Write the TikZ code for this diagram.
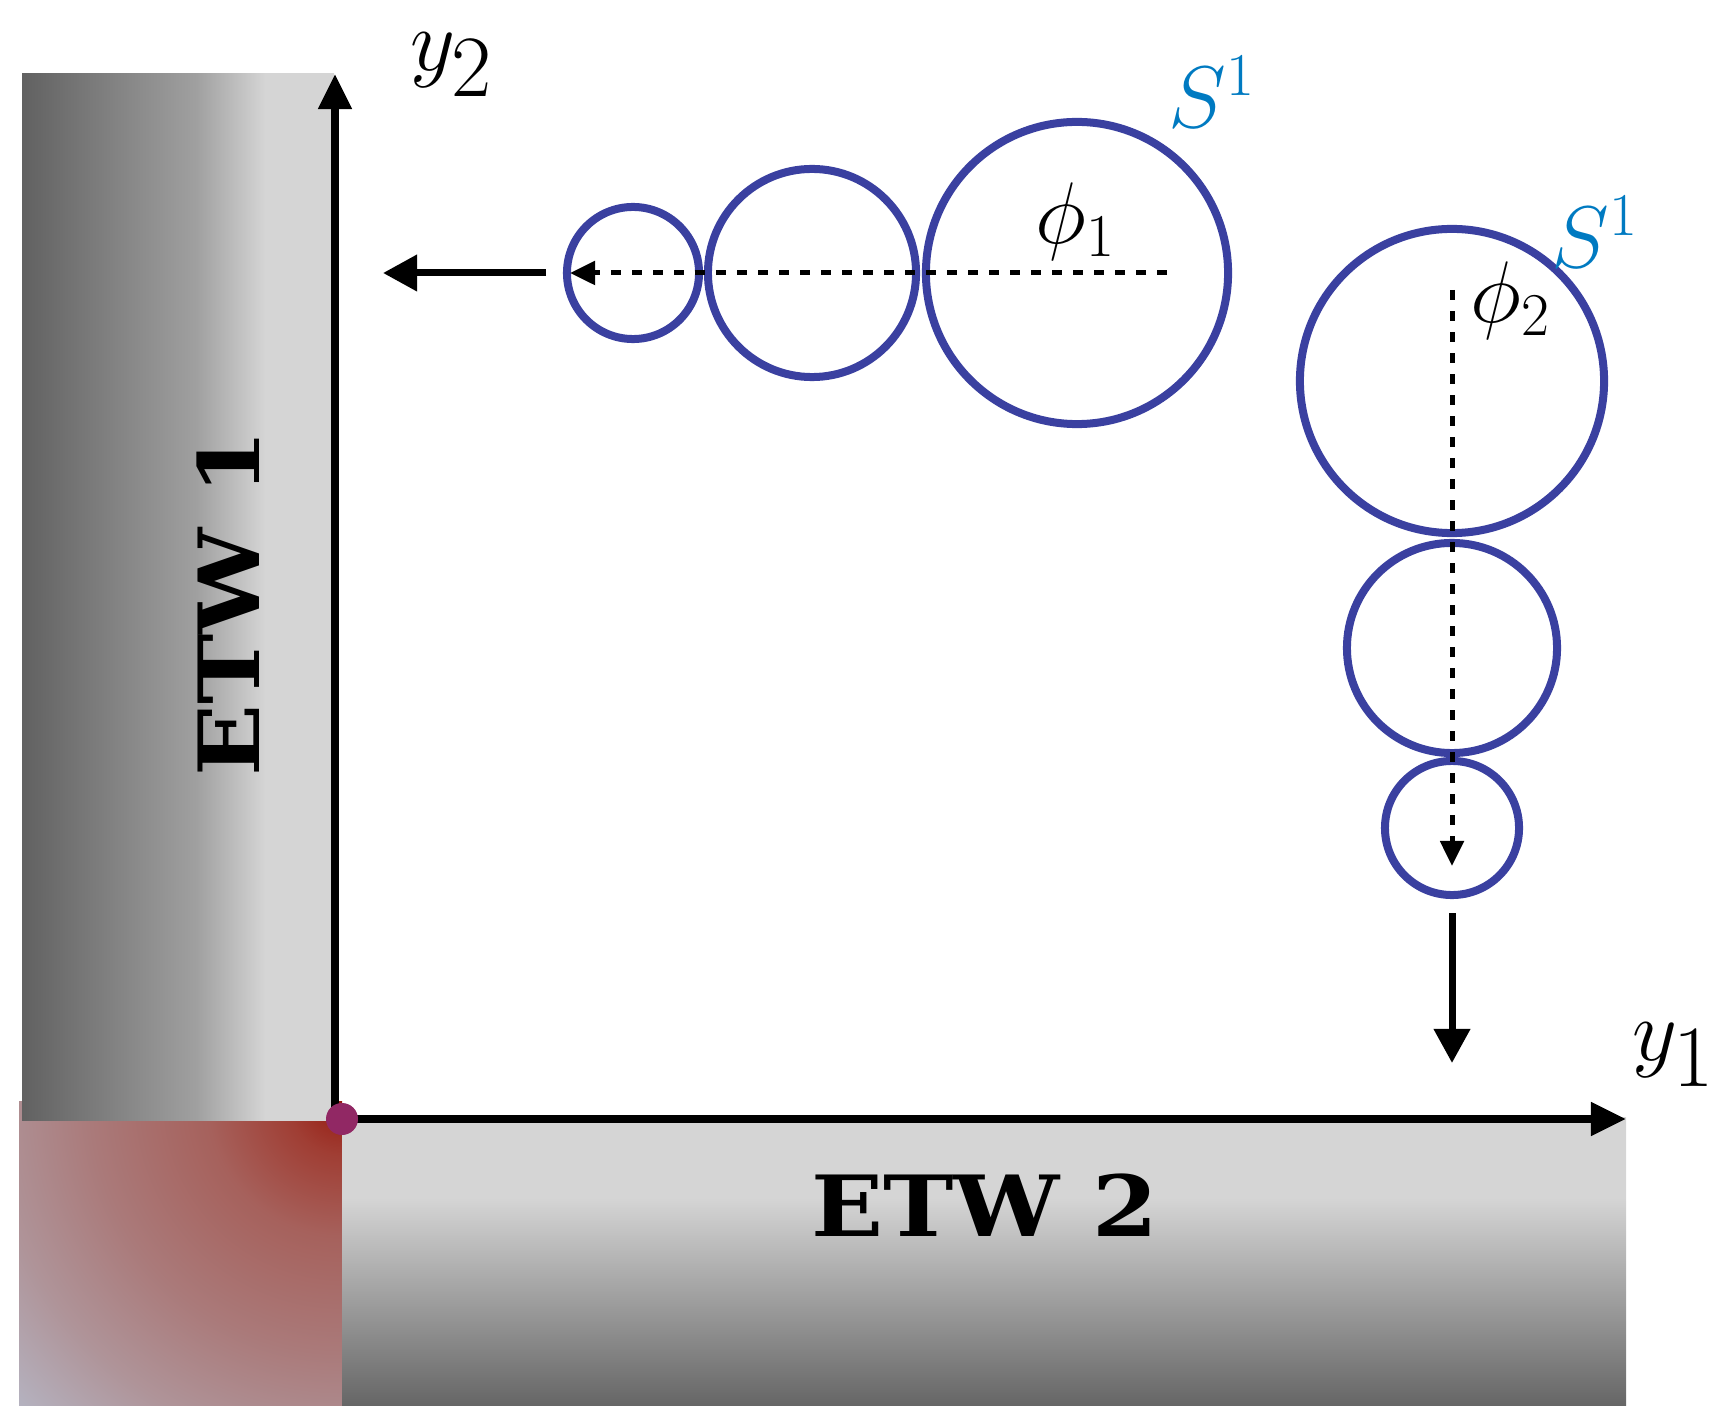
\documentclass[tikz,border=0pt]{standalone}
\usepackage{fontspec}
\newfontfamily\etwfont{DejaVu Serif}
\usepackage{tikz}
\usetikzlibrary{arrows.meta, positioning}
\definecolor{ringblue}{RGB}{58,64,160}
\definecolor{spherecol}{RGB}{0,122,193}
\definecolor{cornerdot}{RGB}{145,40,100}
\definecolor{walldark}{RGB}{97,97,97}
\definecolor{wallmid}{RGB}{160,160,160}
\definecolor{walllight}{RGB}{213,213,213}
\definecolor{floordark}{RGB}{102,102,102}
\definecolor{redzero}{RGB}{150,25,15}
\definecolor{redone}{RGB}{160,62,52}
\definecolor{redtwo}{RGB}{166,97,92}
\definecolor{redthree}{RGB}{170,122,122}
\definecolor{redfour}{RGB}{175,148,153}
\definecolor{redfive}{RGB}{181,180,194}
\pgfdeclarehorizontalshading{etwoneshade}{100bp}{color(0bp)=(walldark);
  color(25bp)=(walldark); color(53bp)=(wallmid); color(64bp)=(walllight);
  color(100bp)=(walllight)}
\pgfdeclareverticalshading{etwtwoshade}{100bp}{color(0bp)=(floordark);
  color(25bp)=(floordark); color(61bp)=(walllight); color(100bp)=(walllight)}
\pgfdeclareradialshading{cornershade}{\pgfpointorigin}{color(0bp)=(redzero);
  color(3bp)=(redone); color(7.5bp)=(redtwo); color(14bp)=(redthree);
  color(19.5bp)=(redfour); color(25bp)=(redfive); color(50bp)=(redfive)}

\begin{document}
\begin{tikzpicture}[x=0.01cm, y=0.01cm,
    ring/.style={circle, draw=ringblue, line width=0.08cm, inner sep=0pt},
    flow/.style={line width=0.05cm, dash pattern=on 0.1cm off 0.11cm,
      -{Triangle[length=0.25cm, width=0.23cm]}},
    pushline/.style={line width=0.07cm, -{Triangle[length=0.34cm, width=0.35cm]}},
    axis/.style={line width=0.075cm, -{Triangle[length=0.35cm, width=0.32cm]}},
    mathlbl/.style={font=\fontsize{37}{44}\selectfont, inner sep=0pt},
    anglbl/.style={font=\fontsize{23}{28}\selectfont, inner sep=0pt},
    spherelbl/.style={font=\fontsize{24}{29}\selectfont, text=spherecol, inner sep=0pt},
    walllbl/.style={font=\etwfont\bfseries\fontsize{24}{29}\selectfont, inner sep=0pt}]

  \useasboundingbox (0,0) rectangle (1718,1405);

  % Walls
  \begin{scope}
    \clip (19,0) rectangle (342,304);
    \shade[shading=cornershade] (342,304) circle (450);
  \end{scope}
  \shade[shading=etwoneshade] (22,285) rectangle (334,1331);
  \shade[shading=etwtwoshade] (342,0) rectangle (1626,288);
  \node[walllbl, rotate=90, xscale=1.12] (etw1) at (228,802) {ETW 1};
  \node[walllbl, xscale=1.12] (etw2) at (985,200) {ETW 2};

  % Axes
  \coordinate (origin) at (335,286);
  \coordinate (yoneend) at (1626,286);
  \coordinate (ytwoend) at (335,1331);
  \draw[axis] (origin) -- (yoneend);
  \draw[axis] (origin) -- (ytwoend);
  \fill[cornerdot] (342,286) circle (16);
  \node[mathlbl] (yone) at (1674,350) {$y_1$};
  \node[mathlbl] (ytwo) at (452,1340) {$y_2$};

  % Row of circles along y2
  \node[ring, minimum size=1.32cm] (ring11) at (633,1132) {};
  \node[ring, minimum size=2.08cm] (ring12) at (812,1132) {};
  \node[ring, minimum size=3.02cm] (ring13) at (1077,1132) {};
  \node[spherelbl] (sone) at (1212,1313) {$S^1$};
  \node[anglbl] (phione) at (1076,1183) {$\phi_1$};
  \coordinate (phionestart) at (1167,1132);
  \coordinate (phioneend) at (570,1132);
  \coordinate (pushonestart) at (546,1132);
  \coordinate (pushoneend) at (383,1132);
  \draw[flow] (phionestart) -- (phioneend);
  \draw[pushline] (pushonestart) -- (pushoneend);

  % Column of circles along y1
  \node[ring, minimum size=3.04cm] (ring21) at (1452,1024) {};
  \node[ring, minimum size=2.10cm] (ring22) at (1452,757) {};
  \node[ring, minimum size=1.34cm] (ring23) at (1452,577) {};
  \node[spherelbl] (stwo) at (1595,1173) {$S^1$};
  \node[anglbl] (phitwo) at (1511,1104) {$\phi_2$};
  \coordinate (phitwostart) at (1452,1115);
  \coordinate (phitwoend) at (1452,539);
  \coordinate (pushtwostart) at (1452,492);
  \coordinate (pushtwoend) at (1452,342);
  \draw[flow] (phitwostart) -- (phitwoend);
  \draw[pushline] (pushtwostart) -- (pushtwoend);

\end{tikzpicture}
\end{document}
